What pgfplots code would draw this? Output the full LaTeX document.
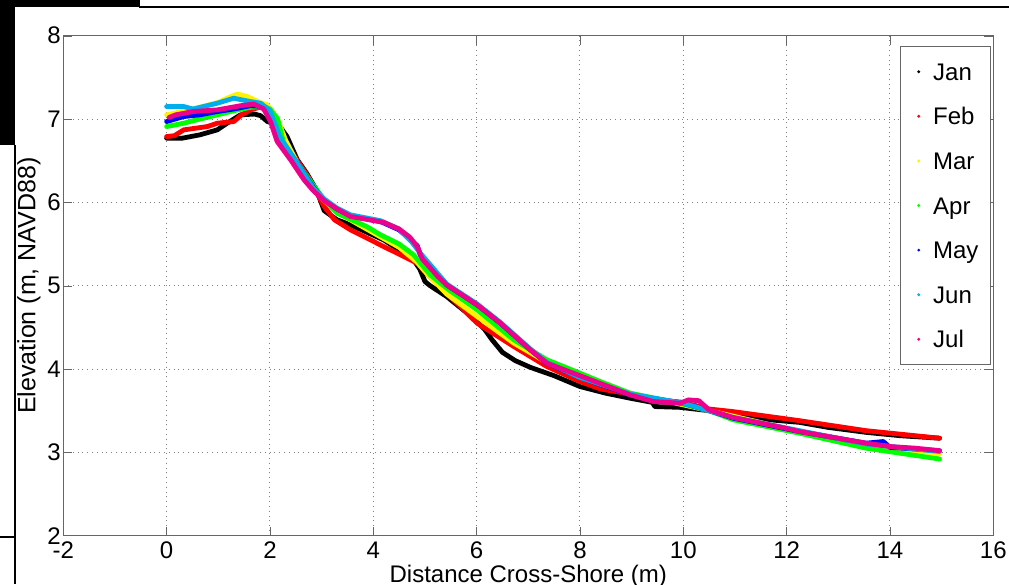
\documentclass[border=0pt]{standalone}
\usepackage{fontspec}
\setmainfont{Liberation Sans}
\usepackage{pgfplots}
\pgfplotsset{compat=1.18}
\begin{document}
\begin{tikzpicture}
\path[use as bounding box, fill=white] (-31.65pt,-24.25pt) rectangle (472.85pt,267.85pt);
\fill[black] (-31.65pt,267.85pt) rectangle (38.35pt,264.5pt);
\fill[black] (38pt,265pt) rectangle (472.85pt,263.7pt);
\fill[black] (-31.65pt,267.85pt) rectangle (-24.15pt,195.35pt);
\fill[black] (-24.65pt,195.5pt) rectangle (-23.65pt,-24.25pt);
\fill[black] (-31.65pt,-0.15pt) rectangle (-24pt,-1.15pt);
\begin{axis}[
  at={(0,0)}, anchor=south west, scale only axis,
  width=465pt, height=250pt,
  xmin=-2, xmax=16, ymin=2, ymax=8,
  xtick={-2,0,...,16}, ytick={2,...,8},
  tick align=inside, major tick length=4.5pt,
  axis line style={black!60}, tick style={black!60},
  grid=major, grid style={dotted, black!50, line width=0.5pt},
  /pgf/number format/assume math mode=true,
  tick label style={font=\fontsize{12}{14}\selectfont},
  xticklabel style={inner ysep=3pt},
  yticklabel style={inner xsep=1.1pt},
  xlabel={Distance Cross-Shore (m)},
  ylabel={Elevation (m, NAVD88)},
  xlabel style={at={(axis description cs:0.5,-0.0928)}, anchor=base, font=\fontsize{12}{14}\selectfont},
  ylabel style={at={(axis description cs:-0.0299,0.5)}, anchor=base, font=\fontsize{12.5}{14}\selectfont},
  legend style={at={(1,1)}, anchor=north east, xshift=-1.3pt, yshift=-5.15pt,
    draw=black!60, inner xsep=5.6pt, inner ysep=1.5pt, row sep=0pt, column sep=0pt,
    font=\fontsize{12}{14}\selectfont,
    nodes={inner xsep=0.3pt, inner ysep=4.35pt, text height=11.1pt, text depth=2.5pt}},
  legend cell align=left,
  legend image code/.code={\path (-2.6pt,0pt) (5.7pt,0pt); \fill[#1,draw=none] (0pt,0pt) circle (0.8pt);},
  prof/.style={line width=2.4pt, line join=round, line cap=round},
]
\addplot[prof, color=black] coordinates {
(0,6.77)(0.3,6.77)(0.64,6.81)(0.98,6.87)(1.17,6.95)(1.43,7.05)(1.7,7.06)(1.82,7.04)(1.95,6.97)(2.17,6.93)(2.33,6.79)(2.53,6.51)(2.71,6.35)(2.9,6.15)(3.05,5.9)(3.3,5.79)(3.56,5.73)(4.2,5.55)(4.5,5.43)(4.8,5.29)(4.9,5.2)(5.0,5.05)(5.1,5.0)(5.42,4.87)(5.8,4.68)(6.0,4.57)(6.15,4.48)(6.3,4.35)(6.5,4.2)(6.75,4.1)(7.04,4.02)(7.5,3.92)(8.0,3.79)(8.5,3.71)(8.97,3.65)(9.4,3.6)(9.45,3.55)(9.94,3.54)(10.5,3.50)(10.95,3.45)(11.5,3.40)(12.25,3.36)(12.8,3.30)(13.54,3.24)(14.2,3.20)(14.96,3.17)};
\addlegendentry{Jan}
\addplot[prof, color=red] coordinates {
(0,6.79)(0.15,6.80)(0.33,6.87)(0.79,6.91)(0.98,6.95)(1.3,6.97)(1.45,7.05)(1.62,7.11)(1.85,7.15)(2.0,7.05)(2.15,6.85)(2.3,6.72)(2.53,6.5)(2.75,6.3)(2.9,6.12)(3.05,5.95)(3.25,5.79)(3.56,5.67)(4.2,5.47)(4.85,5.27)(5.0,5.17)(5.42,4.91)(6.01,4.55)(6.72,4.27)(7.36,4.03)(8.0,3.85)(8.4,3.76)(8.97,3.70)(9.5,3.63)(10.0,3.60)(10.5,3.52)(10.95,3.49)(11.9,3.41)(12.25,3.38)(13.54,3.26)(14.96,3.17)};
\addlegendentry{Feb}
\addplot[prof, color=yellow] coordinates {
(0,7.05)(0.5,7.12)(1.0,7.2)(1.17,7.25)(1.37,7.30)(1.56,7.27)(1.8,7.2)(1.95,7.17)(2.14,7.01)(2.3,6.75)(2.53,6.47)(2.8,6.22)(3.0,6.05)(3.3,5.88)(3.87,5.68)(4.5,5.46)(4.85,5.28)(5.0,5.17)(5.42,4.9)(6.01,4.63)(6.72,4.31)(7.36,4.08)(8.0,3.9)(8.97,3.71)(10.0,3.57)(10.5,3.5)(11.0,3.43)(12.25,3.25)(13.54,3.1)(14.96,2.98)};
\addlegendentry{Mar}
\addplot[prof, color=green] coordinates {
(0,6.91)(0.33,6.95)(0.64,7.0)(0.98,7.05)(1.3,7.1)(1.62,7.14)(1.88,7.15)(2.0,7.12)(2.15,7.0)(2.27,6.7)(2.53,6.47)(2.8,6.24)(3.05,6.03)(3.3,5.87)(3.87,5.71)(4.14,5.61)(4.5,5.50)(4.78,5.37)(5.1,5.13)(5.42,4.97)(6.01,4.71)(6.72,4.35)(7.36,4.11)(8.0,3.95)(8.39,3.85)(8.97,3.71)(10.0,3.58)(10.5,3.5)(10.97,3.39)(12.25,3.23)(13.54,3.05)(14.96,2.92)};
\addlegendentry{Apr}
\addplot[prof, color=blue] coordinates {
(0,6.97)(0.33,7.03)(0.64,7.05)(0.98,7.09)(1.3,7.12)(1.62,7.16)(1.9,7.15)(2.05,7.0)(2.2,6.75)(2.53,6.47)(2.84,6.18)(3.05,6.03)(3.3,5.92)(3.56,5.84)(4.14,5.77)(4.5,5.67)(4.85,5.48)(4.91,5.37)(5.42,5.01)(6.01,4.77)(6.46,4.55)(7.04,4.23)(7.36,4.07)(8.0,3.9)(8.97,3.69)(10.0,3.59)(10.5,3.5)(10.97,3.41)(12.25,3.25)(13.54,3.11)(13.87,3.13)(14.0,3.06)(14.96,3.02)};
\addlegendentry{May}
\addplot[prof, color=cyan] coordinates {
(0,7.15)(0.33,7.15)(0.51,7.12)(0.98,7.19)(1.3,7.25)(1.62,7.21)(1.82,7.19)(2.0,7.1)(2.2,6.78)(2.53,6.47)(2.84,6.17)(3.05,6.04)(3.3,5.93)(3.56,5.85)(4.14,5.78)(4.5,5.68)(4.75,5.52)(4.91,5.39)(5.42,5.02)(6.01,4.78)(6.46,4.56)(7.04,4.24)(7.36,4.08)(8.0,3.9)(8.97,3.70)(10.0,3.59)(10.5,3.5)(10.97,3.42)(12.25,3.26)(13.54,3.1)(14.5,3.04)(14.96,3.01)};
\addlegendentry{Jun}
\addplot[prof, color=magenta] coordinates {
(0.05,7.02)(0.17,7.05)(0.51,7.09)(0.98,7.11)(1.43,7.16)(1.69,7.18)(1.88,7.12)(2.01,6.97)(2.14,6.73)(2.4,6.51)(2.66,6.27)(2.84,6.14)(3.05,6.02)(3.3,5.92)(3.56,5.83)(4.2,5.76)(4.5,5.68)(4.71,5.58)(4.85,5.47)(4.95,5.32)(5.25,5.11)(5.42,5.01)(6.01,4.77)(6.46,4.55)(7.04,4.23)(7.36,4.07)(8.0,3.92)(8.97,3.69)(9.42,3.61)(9.94,3.59)(10.1,3.63)(10.3,3.62)(10.5,3.51)(10.95,3.42)(11.9,3.30)(12.25,3.25)(13.54,3.11)(14.0,3.07)(14.5,3.05)(14.96,3.02)};
\addlegendentry{Jul}
\end{axis}
\end{tikzpicture}
\end{document}
